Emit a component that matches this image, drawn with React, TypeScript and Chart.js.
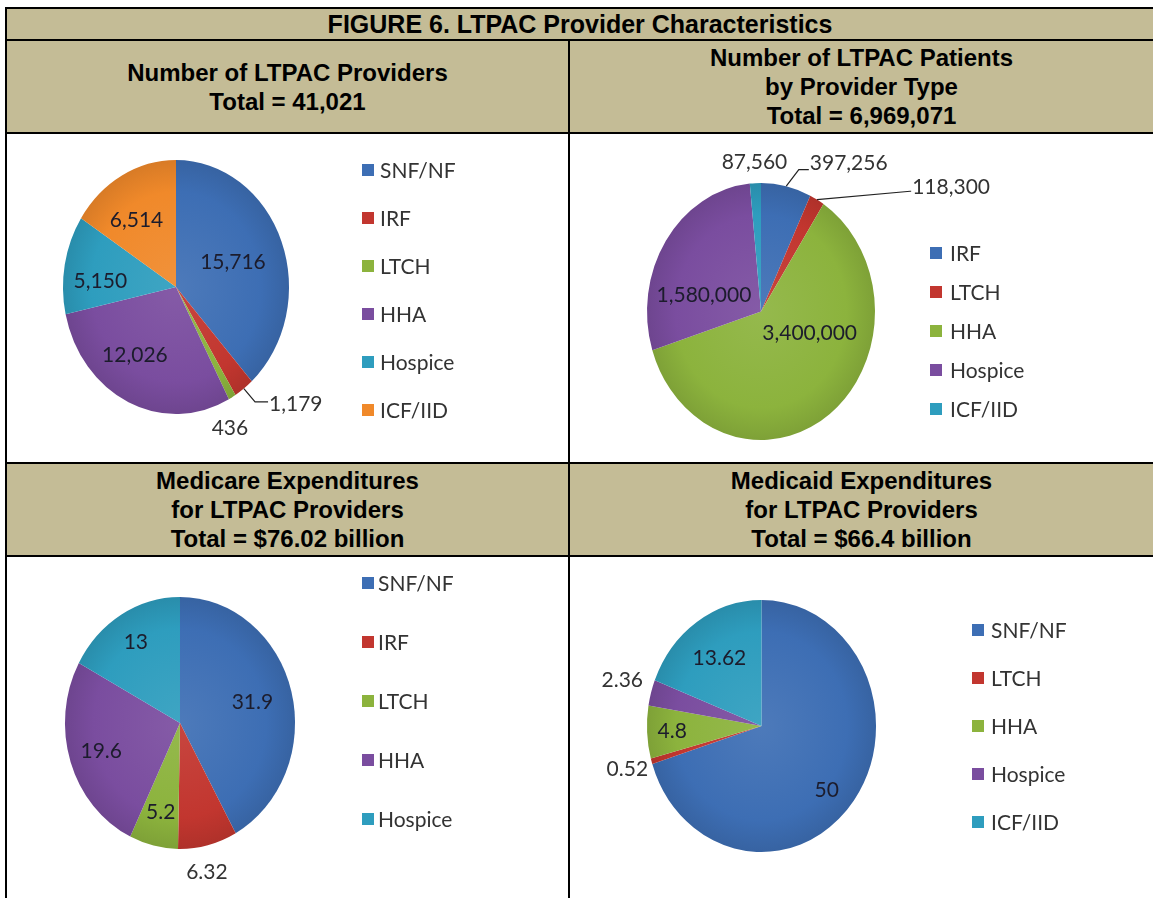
import React, { useEffect, useRef } from "react";
import { Chart, registerables } from "chart.js";

Chart.register(...registerables);

// ---------- data ----------
const TITLE = "FIGURE 6. LTPAC Provider Characteristics";

const providerHeader = ["Number of LTPAC Providers", "Total = 41,021"];
const providerLabels = ["SNF/NF", "IRF", "LTCH", "HHA", "Hospice", "ICF/IID"];
const providerValues = [15716, 1179, 436, 12026, 5150, 6514];

const patientHeader = ["Number of LTPAC Patients", "by Provider Type", "Total = 6,969,071"];
const patientLabels = ["IRF", "LTCH", "HHA", "Hospice", "ICF/IID"];
const patientValues = [397256, 118300, 3400000, 1580000, 87560];

const medicareHeader = ["Medicare Expenditures", "for LTPAC Providers", "Total = $76.02 billion"];
const medicareLabels = ["SNF/NF", "IRF", "LTCH", "HHA", "Hospice"];
const medicareValues = [31.9, 6.32, 5.2, 19.6, 13];

const medicaidHeader = ["Medicaid Expenditures", "for LTPAC Providers", "Total = $66.4 billion"];
const medicaidLabels = ["SNF/NF", "LTCH", "HHA", "Hospice", "ICF/IID"];
const medicaidValues = [50, 0.52, 4.8, 2.36, 13.62];

const PALETTE = ["#3D6EB4", "#C2362F", "#8CB33D", "#7A4D9F", "#2E9DBE", "#F0892A"];

// ---------- styling / layout ----------
const TAN = "#C4BC96";
const LABEL_FONT = "21px Lato";
const LEGEND_FONT = "21px Lato";
const HEAD_FONT = "'Liberation Sans', Arial, sans-serif";

type Box = { left: number; top: number; width: number; height: number };
type Placement = {
  f: number;
  dx?: number;
  dy?: number;
  leader?: boolean;
  hlen?: number;
  ly?: number;
};
type Geo = { cx: number; cy: number; r: number; sx: number };
type Legend = { boxX: number; textX: number; y0: number; step: number };

function shade(hex: string, amt: number): string {
  const n = parseInt(hex.slice(1), 16);
  const c = [(n >> 16) & 255, (n >> 8) & 255, n & 255];
  const t = amt < 0 ? 0 : 255;
  const p = Math.abs(amt);
  const o = c.map((v) => Math.round(v + (t - v) * p));
  return `rgb(${o[0]},${o[1]},${o[2]})`;
}

function PieCell(props: {
  box: Box;
  labels: string[];
  values: number[];
  geo: Geo;
  placements: Placement[];
  legend: Legend;
}) {
  const ref = useRef<HTMLCanvasElement>(null);
  useEffect(() => {
    const { box, labels, values, geo, placements, legend } = props;
    const cx = geo.cx - box.left;
    const cy = geo.cy - box.top;
    const r = geo.r;
    const sx = geo.sx;
    const colors = values.map((_, i) => PALETTE[i]);

    const ellipse = {
      id: "ellipse",
      beforeDatasetsDraw(chart: any) {
        const a = chart.getDatasetMeta(0).data[0];
        const ctx = chart.ctx;
        ctx.save();
        ctx.translate(a.x, a.y);
        ctx.scale(sx, 1);
        ctx.translate(-a.x, -a.y);
      },
      afterDatasetsDraw(chart: any) {
        chart.ctx.restore();
      },
    };

    const annot = {
      id: "annot",
      afterDraw(chart: any) {
        const ctx = chart.ctx as CanvasRenderingContext2D;
        const meta = chart.getDatasetMeta(0);
        ctx.save();
        meta.data.forEach((arc: any, i: number) => {
          const p = arc.getProps(["x", "y", "startAngle", "endAngle", "outerRadius"], true);
          const mid = (p.startAngle + p.endAngle) / 2;
          const co = Math.cos(mid);
          const si = Math.sin(mid);
          const pl = placements[i];
          const R = p.outerRadius;
          const x = p.x + sx * R * pl.f * co + (pl.dx || 0);
          const y = p.y + R * pl.f * si + (pl.dy || 0);
          const text = values[i].toLocaleString("en-US");
          ctx.font = LABEL_FONT;
          ctx.textBaseline = "middle";
          if (pl.leader) {
            const ex = p.x + sx * R * co;
            const ey = p.y + R * si;
            const ly = y + (pl.ly || 0);
            ctx.strokeStyle = "#222";
            ctx.lineWidth = 1.2;
            ctx.beginPath();
            ctx.moveTo(ex, ey);
            ctx.lineTo(x - (pl.hlen || 0), ly);
            ctx.lineTo(x - 1, ly);
            ctx.stroke();
            ctx.textAlign = "left";
            ctx.fillStyle = "#333";
          } else {
            ctx.textAlign = "center";
            ctx.fillStyle = pl.f > 1 ? "#333" : "#1c1c2c";
          }
          ctx.fillText(text, x, y);
        });
        // legend
        labels.forEach((lab, i) => {
          const y = legend.y0 - box.top + i * legend.step;
          ctx.fillStyle = colors[i];
          ctx.fillRect(legend.boxX - box.left, y - 6, 12, 12);
          ctx.font = LEGEND_FONT;
          ctx.textAlign = "left";
          ctx.textBaseline = "middle";
          ctx.fillStyle = "#333";
          ctx.fillText(lab, legend.textX - box.left, y + 1);
        });
        ctx.restore();
      },
    };

    const chart = new Chart(ref.current as HTMLCanvasElement, {
      type: "pie",
      data: {
        labels,
        datasets: [
          {
            data: values,
            backgroundColor: (c: any) => {
              const base = colors[c.dataIndex];
              const ca = c.chart.chartArea;
              if (!ca) return base;
              const gx = (ca.left + ca.right) / 2;
              const gy = (ca.top + ca.bottom) / 2;
              const g = c.chart.ctx.createRadialGradient(gx, gy, 0, gx, gy, r);
              g.addColorStop(0, shade(base, 0.08));
              g.addColorStop(0.75, base);
              g.addColorStop(1, shade(base, -0.1));
              return g;
            },
            borderWidth: 0,
            hoverOffset: 0,
          } as any,
        ],
      },
      options: {
        animation: false,
        responsive: false,
        events: [],
        layout: {
          padding: {
            left: cx - r,
            top: cy - r,
            right: box.width - cx - r,
            bottom: box.height - cy - r,
          },
        },
        plugins: { legend: { display: false }, tooltip: { enabled: false } },
      },
      plugins: [ellipse, annot],
    } as any);
    return () => chart.destroy();
  }, []);
  return (
    <canvas
      ref={ref}
      width={props.box.width}
      height={props.box.height}
      style={{ position: "absolute", left: props.box.left, top: props.box.top }}
    />
  );
}

const CELL_A: Box = { left: 7, top: 134, width: 561, height: 328 };
const CELL_B: Box = { left: 570, top: 134, width: 583, height: 328 };
const CELL_C: Box = { left: 7, top: 557, width: 561, height: 341 };
const CELL_D: Box = { left: 570, top: 557, width: 583, height: 341 };

function HeaderCell(props: { lines: string[]; left: number; top: number; width: number; height: number }) {
  return (
    <div
      style={{
        position: "absolute",
        left: props.left,
        top: props.top,
        width: props.width,
        height: props.height,
        display: "flex",
        flexDirection: "column",
        justifyContent: "center",
        alignItems: "center",
        fontFamily: HEAD_FONT,
        fontWeight: "bold",
        fontSize: 24,
        lineHeight: "29px",
        color: "#000",
        textAlign: "center",
        whiteSpace: "nowrap",
      }}
    >
      {props.lines.map((l, i) => (
        <div key={i}>{l}</div>
      ))}
    </div>
  );
}

function Line(props: { left: number; top: number; width: number; height: number }) {
  return <div style={{ position: "absolute", background: "#000", ...props }} />;
}

export default function App() {
  return (
    <div style={{ position: "relative", width: 1153, height: 898, overflow: "hidden", background: "#fff" }}>
      <style>{"body{margin:0}"}</style>
      {/* tan rows */}
      <div style={{ position: "absolute", left: 7, top: 9, width: 1146, height: 30, background: TAN }} />
      <div style={{ position: "absolute", left: 7, top: 41, width: 1146, height: 91, background: TAN }} />
      <div style={{ position: "absolute", left: 7, top: 464, width: 1146, height: 91, background: TAN }} />

      <div
        style={{
          position: "absolute",
          left: 7,
          top: 9,
          width: 1146,
          height: 30,
          display: "flex",
          alignItems: "center",
          justifyContent: "center",
          fontFamily: HEAD_FONT,
          fontWeight: "bold",
          fontSize: 25,
          whiteSpace: "nowrap",
        }}
      >
        {TITLE}
      </div>
      <HeaderCell lines={providerHeader} left={7} top={41} width={561} height={91} />
      <HeaderCell lines={patientHeader} left={570} top={41} width={583} height={91} />
      <HeaderCell lines={medicareHeader} left={7} top={464} width={561} height={91} />
      <HeaderCell lines={medicaidHeader} left={570} top={464} width={583} height={91} />

      <PieCell
        box={CELL_A}
        labels={providerLabels}
        values={providerValues}
        geo={{ cx: 176, cy: 287, r: 127, sx: 0.89 }}
        placements={[
          { f: 0.54 },
          { f: 1.15, dx: 15, leader: true, hlen: 14, ly: -2 },
          { f: 1.28, dx: -18 },
          { f: 0.59, dx: -13 },
          { f: 0.68, dy: 10 },
          { f: 0.6, dx: -7 },
        ]}
        legend={{ boxX: 362, textX: 380, y0: 170, step: 48 }}
      />
      <PieCell
        box={CELL_B}
        labels={patientLabels}
        values={patientValues}
        geo={{ cx: 761, cy: 311.5, r: 128.5, sx: 0.887 }}
        placements={[
          { f: 1.18, dx: 19, leader: true, hlen: 11, ly: 6 },
          { f: 1.11, dx: 89, leader: true, hlen: 2, ly: 4 },
          { f: 0.3, dx: 28, dy: -9 },
          { f: 0.6, dy: 26 },
          { f: 1.165 },
        ]}
        legend={{ boxX: 930, textX: 950, y0: 253, step: 39 }}
      />
      <PieCell
        box={CELL_C}
        labels={medicareLabels}
        values={medicareValues}
        geo={{ cx: 180, cy: 723, r: 126, sx: 0.913 }}
        placements={[{ f: 0.65 }, { f: 1.22, dx: -7 }, { f: 0.73 }, { f: 0.72 }, { f: 0.75 }]}
        legend={{ boxX: 362, textX: 378, y0: 583, step: 59 }}
      />
      <PieCell
        box={CELL_D}
        labels={medicaidLabels}
        values={medicaidValues}
        geo={{ cx: 761.5, cy: 726, r: 126, sx: 0.909 }}
        placements={[
          { f: 0.75, dx: -4, dy: 8 },
          { f: 1.22 },
          { f: 0.78 },
          { f: 1.26, dy: -4 },
          { f: 0.65 },
        ]}
        legend={{ boxX: 972, textX: 991, y0: 630, step: 48 }}
      />

      {/* borders */}
      <Line left={5} top={7} width={1148} height={2} />
      <Line left={5} top={39} width={1148} height={2} />
      <Line left={5} top={132} width={1148} height={2} />
      <Line left={5} top={462} width={1148} height={2} />
      <Line left={5} top={555} width={1148} height={2} />
      <Line left={5} top={7} width={2} height={891} />
      <Line left={568} top={39} width={2} height={859} />
    </div>
  );
}
